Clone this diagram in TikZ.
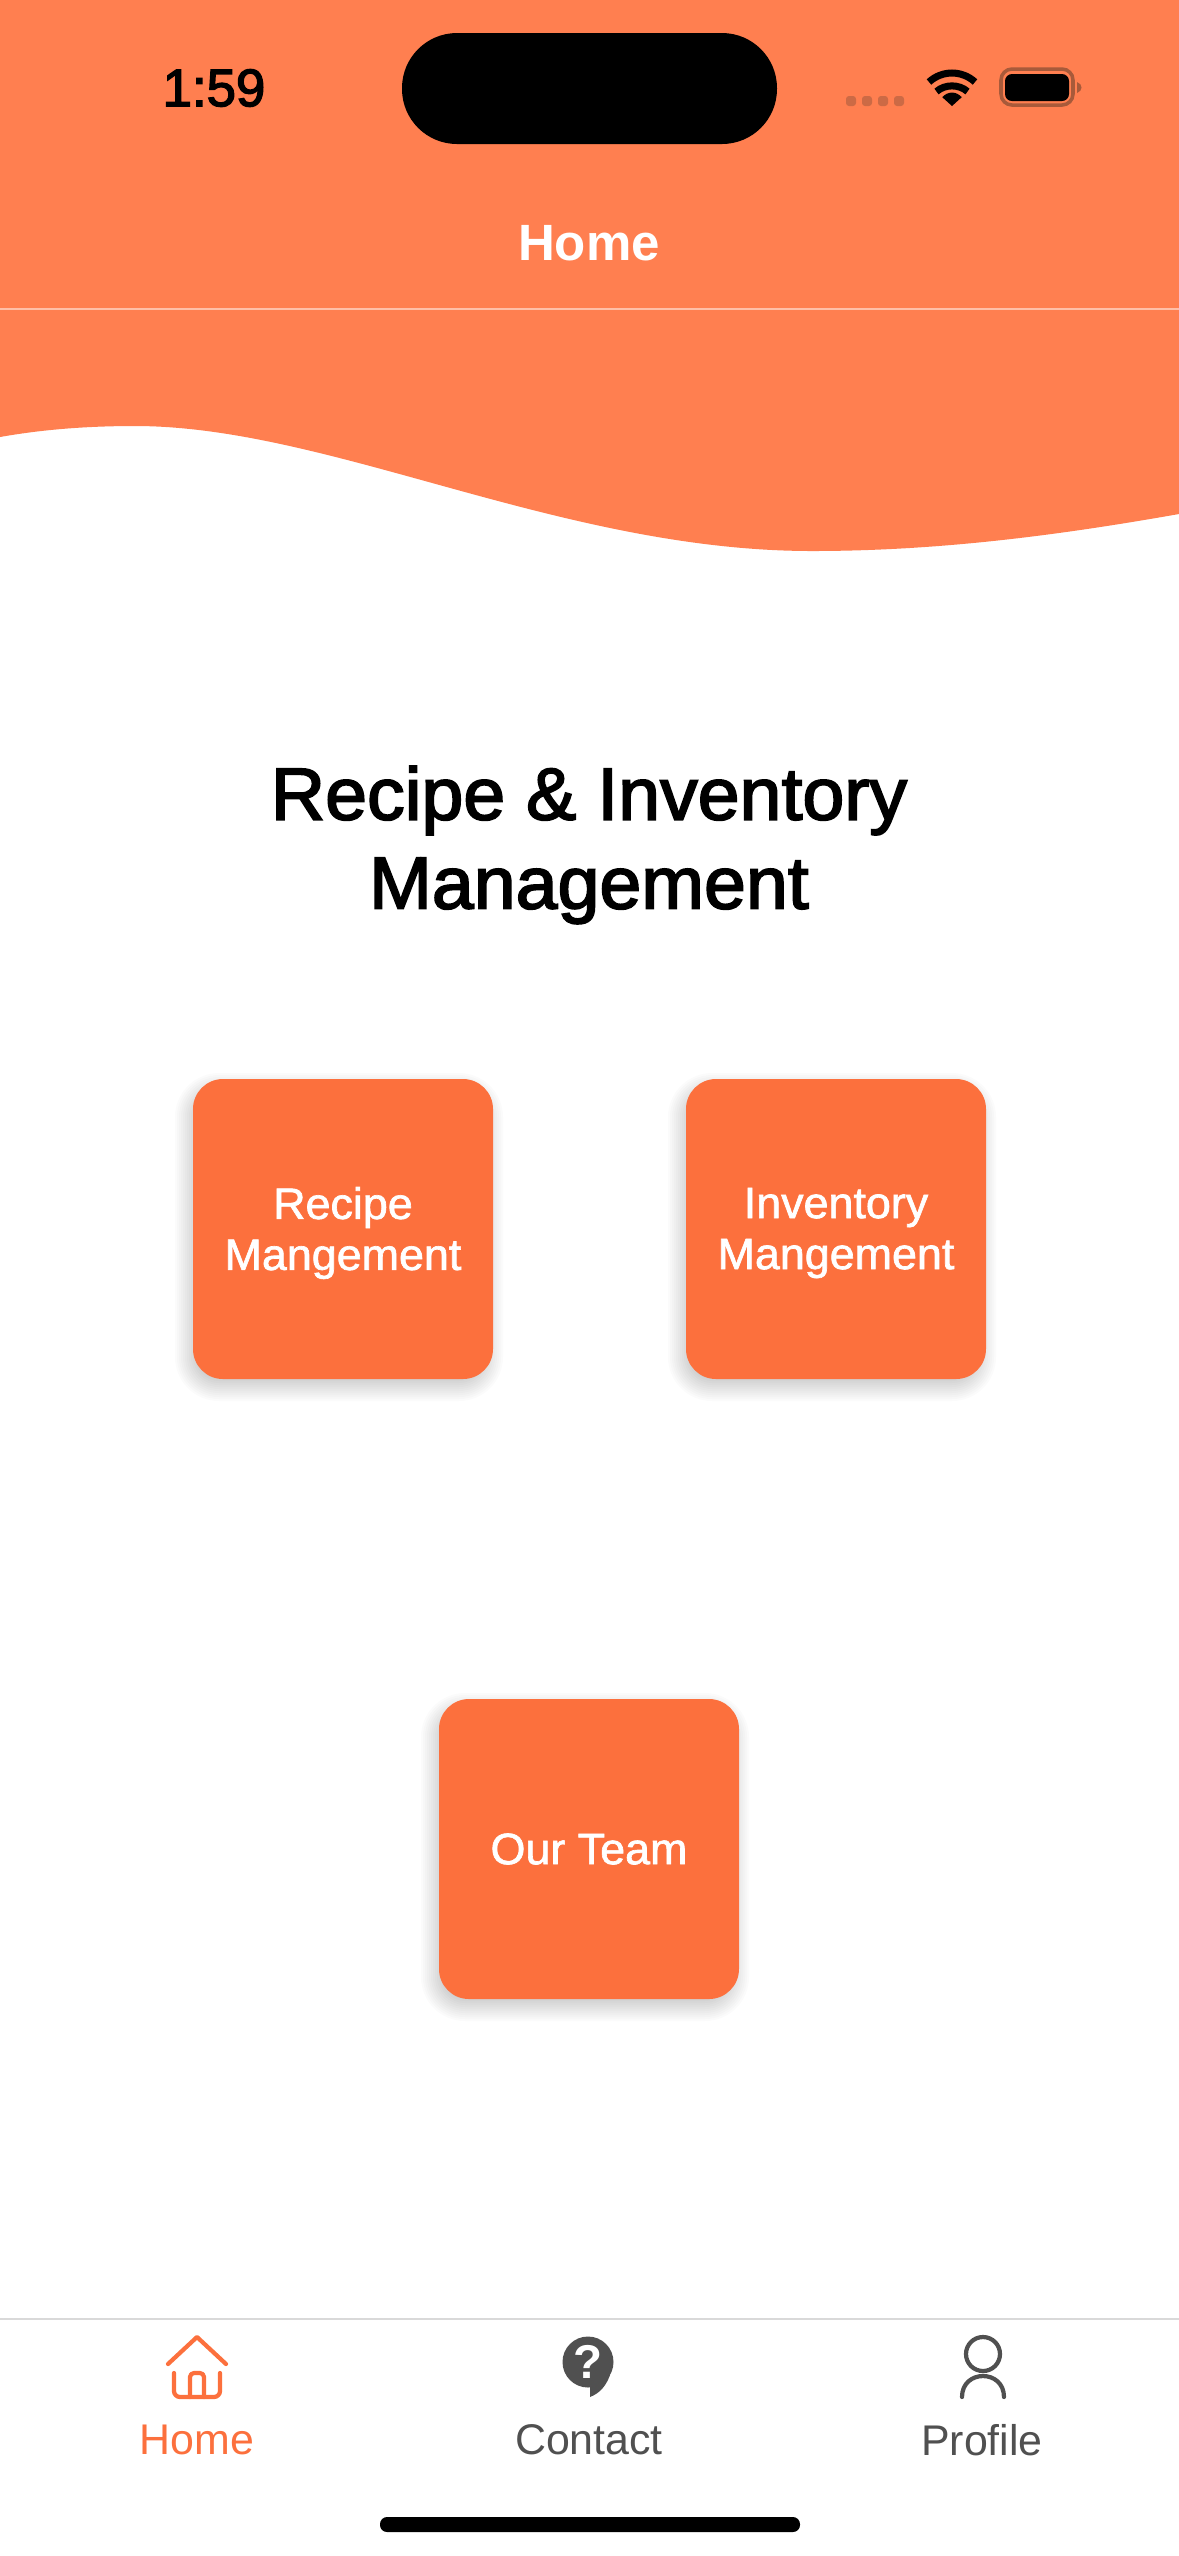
\documentclass[tikz,border=0pt]{standalone}
\usepackage{fontspec}
\setmainfont{Liberation Sans}
\newfontface\midfont{Liberation Sans}[FakeBold=2.4, FakeStretch=1.02]
\newfontface\btnfont{Liberation Sans}[FakeBold=1.5, FakeStretch=1.02]
\newfontface\clockfont{Liberation Sans}[FakeBold=2.6]
\usepackage{xcolor}
\definecolor{coral}{HTML}{FF7F50}
\definecolor{btnorange}{HTML}{FC703D}
\definecolor{tabgray}{HTML}{505050}
\definecolor{rimbrown}{HTML}{A85A3A}
\definecolor{dotbrown}{HTML}{CC6A45}
\tikzset{
  navlabel/.style={font=\fontsize{14.5}{17}\selectfont\bfseries, text=white},
  btnlabel/.style={font=\fontsize{12.5}{14.5}\selectfont\btnfont, text=white, align=center},
  tablabel/.style={font=\fontsize{12.2}{14}\selectfont, text=tabgray},
  tabline/.style={line width=1.2pt, line cap=round, line join=round},
  wifiband/.style={black, line width=2pt}
}
\begin{document}
\begin{tikzpicture}[x=0.01cm, y=-0.01cm]
  \useasboundingbox (0,0) rectangle (1179,2556);
  \fill[white] (0,0) rectangle (1179,2556);

  % ── Header with wave ──
  \fill[coral] (0,0) -- (1179,0) -- (1179,514)
    .. controls (1060,535) and (940,551) .. (812,551)
    .. controls (560,551) and (330,426) .. (135,426)
    .. controls (90,426) and (45,429) .. (0,437) -- cycle;
  \draw[white!50!coral, line width=0.3pt] (0,309) -- (1179,309);
  \node[navlabel] (navtitle) at (589,243) {Home};

  % ── Status bar ──
  \fill[black, rounded corners=55*0.01cm] (402,33) rectangle (777,144);
  \node[font=\fontsize{15}{17}\selectfont\clockfont] (clock) at (214,88) {1:59};
  \foreach \x in {851,867,883,899}{\fill[dotbrown, rounded corners=0.03cm] (\x-5,96) rectangle (\x+5,106);}
  % wifi
  \coordinate (wifibase) at (952,106);
  \fill[black] (wifibase) -- ++(-0.75*13,-0.68*13) .. controls (948,91) and (956,91) .. (961.75,97.16) -- cycle;
  \draw[wifiband] (936.5,91.5) .. controls (945,84) and (959,84) .. (967.5,91.5);
  \draw[wifiband] (929,82) .. controls (942,70) and (962,70) .. (975,82);
  % battery
  \draw[rimbrown, line width=1pt, rounded corners=0.11cm] (1001,69) rectangle (1073,105);
  \fill[black, rounded corners=0.07cm] (1005,74) rectangle (1069,101);
  \fill[rimbrown] (1077,82) .. controls (1083,84) and (1083,91) .. (1077,93) -- cycle;

  % ── Title ──
  \node[font=\fontsize{21}{25.3}\selectfont\midfont, align=center] (title) at (589,845)
    {Recipe \& Inventory\\Management};

  % ── Buttons ──
  \foreach \bname/\bx/\by/\ty/\btext in
      {recipebtn/343/1229/1233/{Recipe\\Mangement},
       inventorybtn/836/1229/1233/{Inventory\\Mangement},
       teambtn/589/1849/1849/{Our Team}} {
    \foreach \s in {0,...,13}{
      \pgfmathsetmacro{\grow}{14-2*\s}
      \pgfmathsetmacro{\rad}{max(0.06,0.3+0.01*\grow)}
      \fill[black, opacity=0.016, rounded corners=\rad cm]
        ({\bx-150-\grow-4},{\by-150-\grow+8}) rectangle ({\bx+150+\grow-4},{\by+150+\grow+8});
    }
    \fill[btnorange, rounded corners=0.3cm] (\bx-150,\by-150) rectangle (\bx+150,\by+150);
    \node[btnlabel] (\bname) at (\bx,\ty) {\btext};
  }

  % ── Tab bar ──
  \draw[black!15, line width=0.5pt] (0,2319) -- (1179,2319);
  % home icon
  \draw[btnorange, tabline] (168,2364) -- (197,2337) -- (226,2364);
  \draw[btnorange, tabline, rounded corners=0.06cm] (174,2373) -- (174,2397) -- (220,2397) -- (220,2373);
  \draw[btnorange, tabline, rounded corners=0.04cm] (190,2397) -- (190,2373) -- (204,2373) -- (204,2397);
  \node[tablabel, text=btnorange] (hometab) at (197,2440) {Home};
  % contact icon
  \fill[tabgray] (588,2362) circle (25.5);
  \fill[tabgray] (590,2380) -- (590,2397) .. controls (600,2393) and (606,2386) .. (610,2375) -- cycle;
  \node[font=\fontsize{13.5}{15}\selectfont\bfseries, text=white] (helpmark) at (588,2362) {?};
  \node[tablabel] (contacttab) at (589,2440) {Contact};
  % profile icon
  \draw[tabgray, tabline] (983,2354) circle (17);
  \draw[tabgray, tabline] (962,2397) .. controls (962,2369) and (1004,2369) .. (1004,2397);
  \node[tablabel] (profiletab) at (982,2440) {Profile};

  % home indicator
  \fill[black, rounded corners=0.07cm] (380,2517) rectangle (800,2532);
\end{tikzpicture}
\end{document}
